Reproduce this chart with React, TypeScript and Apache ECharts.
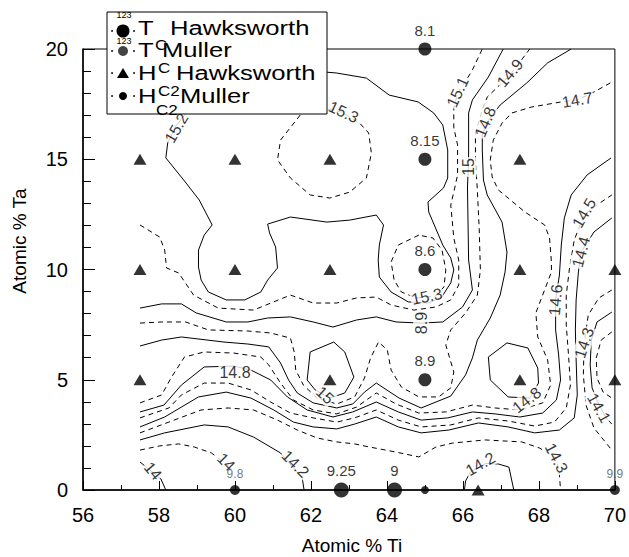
import React, { useEffect, useRef } from "react";
import * as echarts from "echarts";

const FONT = '"Liberation Sans", Arial, sans-serif';

// ---- measured points ----
const tHawksworth = [[65, 20], [65, 15], [65, 10], [65, 5], [62.8, 0], [64.2, 0]];
const tHawksworthLabels = ["8.1", "8.15", "8.6", "8.9", "9.25", "9"];
const tMuller = [[60, 0], [70, 0]];
const tMullerLabels = ["9.8", "9.9"];
const hHawksworth = [
  [57.5, 15], [60, 15], [62.5, 15], [67.5, 15],
  [57.5, 10], [60, 10], [62.5, 10], [67.5, 10], [70, 10],
  [57.5, 5], [62.5, 5], [67.5, 5], [70, 5], [66.4, 0],
];
const hMuller = [[65, 0]];

// ---- contour lines (Atomic % Ti, Atomic % Ta) ----
const c152 = [[62.34,18.96],[62.68,18.91],[63.46,18.68],[64.06,17.91],[64.82,17.60],[65.23,17.10],[65.47,16.55],[65.60,15.42],[65.60,14.15],[65.49,13.70],[65.08,13.06],[65.10,12.61],[65.47,11.11],[65.68,10.52],[65.76,9.98],[65.68,9.39],[65.44,8.75],[65.10,8.48],[64.56,8.53],[64.11,8.98],[63.80,9.66],[63.77,10.43],[63.80,11.11],[63.91,12.02],[63.72,12.47],[63.02,12.24],[62.42,12.15],[61.46,12.38],[60.86,12.06],[60.91,11.66],[61.07,11.02],[61.12,10.07],[60.86,9.52],[60.68,8.98],[60.26,8.62],[59.77,8.62],[59.30,8.98],[59.11,9.52],[59.04,10.11],[59.04,10.88],[59.19,11.56],[59.40,12.02],[59.06,13.15],[58.65,14.06],[58.18,15.06],[58.23,15.74],[58.46,16.55],[58.78,17.23],[60.34,18.14],[62.34,18.96]];
const c153a = [[61.72,17.01],[61.20,15.87],[61.12,14.97],[61.46,14.15],[61.98,13.38],[62.50,13.24],[63.02,13.51],[63.46,14.15],[63.59,15.28],[63.52,16.19],[63.28,16.64],[62.81,17.14],[62.16,17.37],[61.72,17.01]];
const c153b = [[64.84,11.56],[64.30,11.11],[64.11,10.34],[64.19,9.52],[64.38,8.98],[64.77,8.71],[65.29,8.80],[65.50,9.21],[65.55,9.98],[65.45,10.88],[65.21,11.43],[64.84,11.56]];
const c151 = [[57.50,12.02],[58.02,11.47],[58.15,10.88],[58.20,10.07],[58.52,9.84],[58.91,8.84],[59.56,8.25],[60.49,8.16],[61.46,8.84],[62.06,8.48],[62.68,8.48],[63.20,8.71],[63.72,8.75],[64.11,8.39],[64.71,8.16],[65.29,8.30],[65.68,8.62],[65.89,9.30],[65.89,10.43],[65.76,11.43],[65.68,12.93],[65.76,13.51],[65.86,14.29],[65.86,15.65],[65.76,16.42],[65.76,17.32],[65.86,18.00],[66.12,18.68],[66.25,19.05],[66.51,20]];
const c150 = [[57.50,8.25],[58.07,8.44],[58.59,8.44],[58.98,8.03],[59.77,7.62],[60.34,7.62],[60.86,7.80],[61.46,7.85],[62.06,7.62],[62.58,7.39],[63.20,7.71],[63.72,7.85],[64.24,7.62],[64.90,7.57],[65.47,7.62],[65.99,8.30],[66.25,9.07],[66.15,10.43],[66.12,13.74],[66.15,14.97],[66.15,17.10],[66.25,17.69],[66.67,18.73],[67.06,20]];
const c150loop = [[61.90,4.99],[61.98,6.26],[62.60,6.71],[62.89,6.26],[63.13,5.12],[62.89,4.40],[62.50,4.17],[62.11,4.54],[61.90,4.99]];
const c149 = [[57.50,7.57],[58.07,7.62],[58.70,7.62],[59.30,7.26],[60.34,7.21],[60.94,7.12],[61.46,6.89],[61.56,6.26],[61.60,5.44],[61.80,4.76],[62.16,4.17],[62.68,3.90],[63.15,4.22],[63.41,5.08],[63.57,5.99],[63.78,6.71],[64.01,6.35],[64.11,5.44],[64.38,4.67],[64.84,4.22],[65.36,4.22],[65.68,4.63],[65.76,5.35],[65.55,6.58],[65.68,7.26],[66.07,8.03],[66.38,8.84],[66.46,9.98],[66.43,11.79],[66.38,13.61],[66.33,14.97],[66.33,16.19],[66.51,17.23],[66.64,17.82],[67.24,18.82],[67.76,20]];
const c148 = [[57.50,6.53],[58.07,6.80],[58.59,6.94],[59.71,6.71],[60.34,6.62],[60.89,6.49],[61.20,5.76],[61.41,4.99],[61.64,4.40],[62.06,3.95],[62.68,3.72],[63.10,3.90],[63.41,4.44],[63.72,4.85],[64.32,4.17],[64.90,3.72],[65.68,4.26],[66.07,5.22],[66.25,5.99],[66.38,6.80],[66.72,7.80],[66.98,8.84],[67.11,9.89],[67.16,10.79],[67.03,12.15],[66.64,13.38],[66.54,14.06],[66.51,15.42],[66.51,16.10],[66.64,16.69],[66.98,17.46],[67.68,18.46],[68.23,19.37],[68.85,20]];
const c148loop = [[66.67,6.03],[67.16,6.67],[67.71,6.44],[67.97,5.53],[67.99,4.85],[67.76,4.17],[67.19,4.22],[66.72,4.99],[66.67,6.03]];
const c147 = [[57.50,3.95],[58.07,4.31],[58.33,5.12],[58.67,6.03],[59.19,6.26],[59.97,6.21],[60.68,6.03],[60.89,5.67],[61.20,4.85],[61.54,4.08],[62.06,3.63],[62.68,3.45],[63.20,3.76],[63.72,4.40],[64.24,3.90],[64.84,3.49],[65.55,3.54],[66.25,3.85],[66.85,3.72],[67.50,3.63],[68.10,3.95],[68.31,4.76],[68.23,5.90],[67.97,6.94],[67.92,8.03],[68.15,9.07],[68.33,9.89],[68.33,10.34],[68.28,11.43],[68.15,12.02],[67.63,12.61],[67.19,13.24],[66.93,13.61],[66.77,14.20],[66.72,14.97],[66.80,15.87],[67.03,16.64],[67.29,17.10],[67.81,17.37],[68.59,17.60],[69.01,17.69],[69.45,18.05],[69.92,18.50]];
const c146 = [[57.50,3.54],[58.13,3.85],[58.59,4.76],[59.19,5.58],[59.97,5.62],[60.42,5.44],[60.94,4.99],[61.38,4.22],[61.90,3.63],[62.58,3.31],[63.10,3.54],[63.72,3.99],[64.30,3.54],[64.90,3.17],[65.60,3.27],[66.25,3.54],[66.85,3.45],[67.50,3.31],[68.10,3.49],[68.46,4.08],[68.57,4.99],[68.52,6.12],[68.44,7.26],[68.44,8.62],[68.54,9.75],[68.59,11.11],[68.67,12.34],[68.85,13.38],[69.27,14.29],[69.90,15.06]];
const c145 = [[57.50,3.27],[58.26,3.72],[58.59,4.31],[59.19,4.85],[59.82,4.85],[60.42,4.54],[60.94,3.99],[61.46,3.49],[62.06,3.27],[62.68,3.08],[63.15,3.27],[63.72,3.63],[64.30,3.17],[64.90,2.86],[65.68,2.95],[66.41,3.27],[67.19,3.13],[67.89,2.90],[68.41,3.08],[68.72,3.72],[68.83,4.76],[68.78,6.12],[68.72,7.48],[68.72,8.84],[68.80,9.98],[68.93,11.34],[69.19,12.47],[69.53,12.93],[69.92,13.38]];
const c144 = [[57.50,2.86],[58.15,3.31],[59.04,4.22],[59.77,4.44],[60.42,4.17],[61.02,3.63],[61.54,3.08],[62.06,2.86],[62.68,2.77],[63.15,2.99],[63.72,3.31],[64.30,2.86],[64.90,2.59],[65.63,2.72],[66.41,3.04],[67.19,2.86],[67.89,2.59],[68.54,2.72],[68.93,3.27],[69.01,4.31],[68.98,5.90],[68.96,7.26],[68.98,8.62],[69.04,9.89],[69.11,10.79],[69.45,11.70],[69.92,12.34]];
const c143 = [[57.50,2.59],[58.26,3.08],[59.11,3.63],[59.82,3.72],[60.49,3.63],[61.12,3.17],[61.64,2.72],[62.16,2.36],[62.68,2.18],[63.15,2.09],[63.54,1.95],[64.24,1.72],[64.84,1.50],[65.29,1.95],[65.73,2.13],[66.59,2.27],[67.55,2.18],[68.02,1.90],[68.46,1.45],[68.54,0.68],[68.57,0]];
const c142 = [[57.50,2.27],[58.15,2.59],[59.19,2.95],[59.82,2.86],[60.49,2.40],[61.20,1.68],[61.77,0.54],[61.82,0]];
const c141 = [[57.50,1.81],[58.02,2.00],[58.52,2.09],[58.93,1.95],[59.38,1.68],[59.90,1.00]];
const c140 = [[57.50,1.27],[58.05,0.50],[58.18,0]];
const c142b = [[66.04,0],[66.07,0.41],[66.20,0.82],[66.60,1.20],[66.93,1.18],[67.21,1.04],[67.34,0]];
const arcOuter = [[69.92,9.07],[69.58,8.71],[69.30,7.94],[69.19,6.67],[69.17,5.22],[69.24,3.85],[69.45,2.81],[69.92,1.81]];
const arcMiddle = [[69.92,8.07],[69.53,7.62],[69.38,6.80],[69.35,5.67],[69.40,4.63],[69.56,3.95],[69.77,3.27],[69.92,2.99]];
const arcInner = [[69.92,7.17],[69.64,6.80],[69.51,5.99],[69.53,5.08],[69.69,4.44],[69.92,4.17]];

const solidLines = [c152, c150, c150loop, c148, c148loop, c146, c144, c142, c140, c142b, arcMiddle];
const dashedLines = [c153a, c153b, c151, c149, c147, c145, c143, c141, arcOuter, arcInner];

// ---- contour labels ----
const contourLabelText = ["15.2","15.3","15.1","14.9","14.8","14.7","15","14.5","14.4","15.3","8.9","14.6","14.3","14.8","14.1","14.8","15","14.2","14","14","14.2","14.3"];
const contourLabelAt = [[58.46,16.42],[62.86,17.14],[65.86,18.05],[67.24,18.91],[66.59,16.69],[69.01,17.69],[66.15,14.65],[69.19,12.56],[69.11,10.79],[65.05,8.78],[64.90,7.57],[68.44,8.62],[69.19,6.67],[67.68,4.08],[69.58,3.72],[60.0,5.35],[62.37,4.30],[61.59,1.18],[59.77,1.27],[57.84,0.86],[66.46,1.18],[68.46,1.45]];
const contourLabelAngle = [60,-25,65,50,68,10,90,60,75,12,90,85,72,38,-60,0,-42,-45,-45,-50,30,-62];

const lineSeries = (d: number[][], dashed: boolean) => ({
  type: "line",
  data: d,
  showSymbol: false,
  symbol: "none",
  silent: true,
  z: 2,
  lineStyle: { color: "#000", width: 1, type: dashed ? [5, 4] : "solid" },
});

const legendText = (text: string, x: number, y: number, size: number) => ({
  type: "text",
  x,
  y,
  z: 101,
  scaleX: 1.22,
  style: { text, fontSize: size, fontFamily: FONT, fill: "#000", textAlign: "left", textVerticalAlign: "middle" },
});

const dot = (x: number, y: number, r: number, fill: string) => ({
  type: "circle", z: 101, shape: { cx: x, cy: y, r }, style: { fill },
});

const graphic = [
  { type: "rect", z: 100, shape: { x: 107, y: 12, width: 220, height: 102 }, style: { fill: "#fff", stroke: "#000", lineWidth: 1 } },
  // row 1
  { type: "text", z: 101, x: 124, y: 15, style: { text: "123", fontSize: 9, fontFamily: FONT, fill: "#000", textAlign: "center", textVerticalAlign: "middle" } },
  dot(112, 31, 0.9, "#000"), dot(134, 31, 0.9, "#000"), dot(123, 31, 6.5, "#000"),
  legendText("T", 138, 28, 21), legendText("Hawksworth", 170, 28, 21),
  // row 2
  { type: "text", z: 101, x: 124, y: 41, style: { text: "123", fontSize: 9, fontFamily: FONT, fill: "#000", textAlign: "center", textVerticalAlign: "middle" } },
  dot(112, 51, 0.9, "#000"), dot(134, 51, 0.9, "#000"), dot(123, 51, 5, "#444"),
  legendText("T", 138, 50, 21), legendText("C", 155, 45, 14), legendText("Muller", 162, 50, 21),
  // row 3
  dot(112, 73, 0.9, "#000"), dot(134, 73, 0.9, "#000"),
  { type: "polygon", z: 101, shape: { points: [[117, 78], [129, 78], [123, 68]] }, style: { fill: "#000" } },
  legendText("H", 138, 73, 21), legendText("C", 158, 68, 14), legendText("Hawksworth", 176, 73, 21),
  // row 4
  dot(112, 96, 0.9, "#000"), dot(134, 96, 0.9, "#000"), dot(123, 96, 4, "#000"),
  legendText("H", 138, 96, 21), legendText("C2", 158, 91, 14), legendText("Muller", 180, 96, 21),
  legendText("C2", 156, 110, 14),
  // axis names
  { type: "text", z: 101, x: 352, y: 545, style: { text: "Atomic % Ti", fontSize: 19, fontFamily: FONT, fill: "#000", textAlign: "center", textVerticalAlign: "middle" } },
  { type: "text", z: 101, x: 19, y: 241, rotation: Math.PI / 2, style: { text: "Atomic % Ta", fontSize: 19, fontFamily: FONT, fill: "#000", textAlign: "center", textVerticalAlign: "middle" } },
];

const option: any = {
  animation: false,
  backgroundColor: "#fff",
  grid: { left: 83, right: 9, top: 49, bottom: 67, show: true, borderColor: "#000", borderWidth: 1 },
  xAxis: {
    type: "value", min: 56, max: 70, interval: 2,
    axisLine: { lineStyle: { color: "#000", width: 1.5 } },
    axisTick: { inside: true, length: 9, lineStyle: { color: "#000" } },
    minorTick: { show: true, splitNumber: 2, length: 5, lineStyle: { color: "#000" } },
    splitLine: { show: false },
    axisLabel: { color: "#000", fontSize: 20, fontFamily: FONT, margin: 15 },
  },
  yAxis: {
    type: "value", min: 0, max: 20, interval: 5,
    axisLine: { lineStyle: { color: "#000", width: 1.5 } },
    axisTick: { inside: true, length: 12, lineStyle: { color: "#000" } },
    minorTick: { show: true, splitNumber: 5, length: 8, lineStyle: { color: "#000" } },
    splitLine: { show: false },
    axisLabel: { color: "#000", fontSize: 20, fontFamily: FONT, margin: 15 },
  },
  graphic,
  series: [
    ...solidLines.map((d) => lineSeries(d, false)),
    ...dashedLines.map((d) => lineSeries(d, true)),
    {
      type: "scatter", z: 4, silent: true, symbolSize: 1, clip: false,
      itemStyle: { color: "transparent" },
      label: { show: true, position: "inside", color: "#000", fontSize: 16, fontFamily: FONT, backgroundColor: "#fff", padding: [0, 1] },
      data: contourLabelAt.map((p, i) => ({
        value: p,
        label: { formatter: contourLabelText[i], rotate: contourLabelAngle[i] },
      })),
    },
    {
      type: "scatter", z: 10, clip: false, symbol: "circle",
      symbolSize: (_v: any, p: any) => (p.dataIndex >= 4 ? 15 : 13),
      itemStyle: { color: "#000" },
      label: { show: true, position: "top", distance: 5, color: "#000", fontSize: 15, fontFamily: FONT, formatter: (p: any) => tHawksworthLabels[p.dataIndex] },
      data: tHawksworth,
    },
    {
      type: "scatter", z: 10, clip: false, symbol: "circle", symbolSize: 10,
      itemStyle: { color: "#000" },
      label: { show: true, position: "top", distance: 5, color: "#555", fontSize: 12, fontFamily: FONT, formatter: (p: any) => tMullerLabels[p.dataIndex] },
      data: tMuller,
    },
    {
      type: "scatter", z: 10, clip: false, symbol: "triangle", symbolSize: [13, 11],
      itemStyle: { color: "#000" },
      data: hHawksworth,
    },
    {
      type: "scatter", z: 10, clip: false, symbol: "circle", symbolSize: 8,
      itemStyle: { color: "#000" },
      data: hMuller,
    },
  ],
};

export default function App() {
  const ref = useRef<HTMLDivElement>(null);
  useEffect(() => {
    const chart = echarts.init(ref.current!, null, { renderer: "svg" });
    chart.setOption(option);
    return () => chart.dispose();
  }, []);
  return <div ref={ref} style={{ position: "absolute", left: 0, top: 0, width: 629, height: 557 }} />;
}
